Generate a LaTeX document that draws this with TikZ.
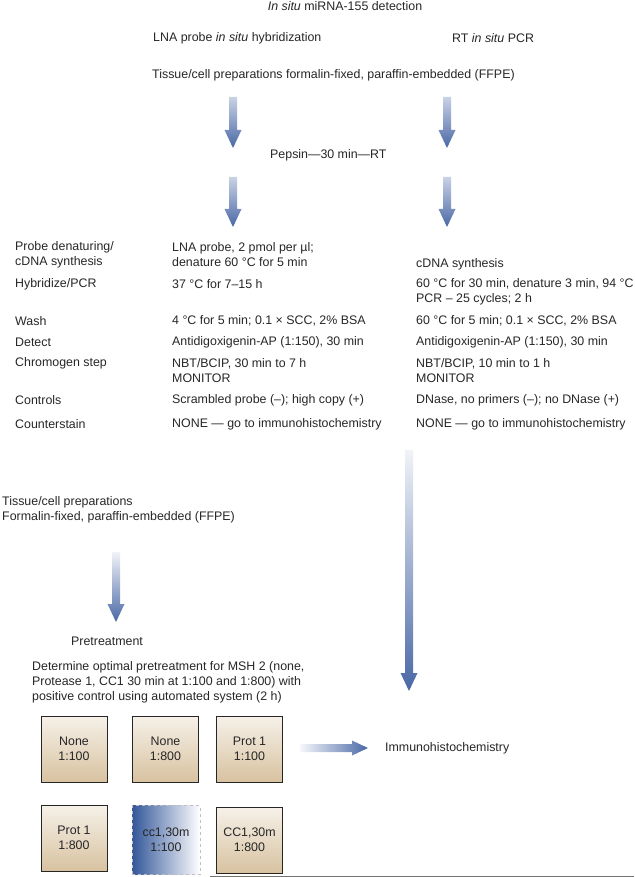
\documentclass[tikz,border=0pt]{standalone}
\usepackage{fontspec}
\setmainfont{Liberation Sans}
\usetikzlibrary{calc}
\definecolor{arrowblue}{HTML}{4A68A6}
\definecolor{tiletop}{HTML}{F6F1E9}
\definecolor{tilebottom}{HTML}{D8C2A0}
\definecolor{cellblue}{HTML}{33579A}
% shaded block arrows between two named points
\newcommand{\downblock}[3][arrowblue!8!white]{%
  \shade[top color=#1, bottom color=arrowblue]
    let \p1=(#2), \p2=(#3) in
    (\x1-4pt,\y1) -- (\x1+4pt,\y1) -- (\x1+4pt,\y2+18pt) -- (\x1+8.5pt,\y2+18pt)
    -- (\x1,\y2) -- (\x1-8.5pt,\y2+18pt) -- (\x1-4pt,\y2+18pt) -- cycle;}
\newcommand{\rightblock}[2]{%
  \shade[left color=arrowblue!5!white, right color=arrowblue]
    let \p1=(#1), \p2=(#2) in
    (\x1,\y1+4pt) -- (\x2-16pt,\y1+4pt) -- (\x2-16pt,\y1+7.5pt) -- (\x2,\y1)
    -- (\x2-16pt,\y1-7.5pt) -- (\x2-16pt,\y1-4pt) -- (\x1,\y1-4pt) -- cycle;}

\begin{document}
\begin{tikzpicture}[x=1pt, y=1pt, font=\fontsize{12.4}{15}\selectfont, text=black!85,
    txt/.style={anchor=west, inner sep=0pt, align=left},
    tile/.style={draw=black!85, line width=0.8pt, minimum width=66pt, minimum height=66pt,
      top color=tiletop, bottom color=tilebottom, align=center, inner sep=0pt},
    cctile/.style={draw=black!25, dashed, line width=0.8pt, minimum width=68pt, minimum height=69pt,
      left color=cellblue, right color=white, align=center, inner sep=0pt}]
    \useasboundingbox (0,0) rectangle (634,-877);

    % header
    \node (title) at (345,-6) {\textit{In situ} miRNA-155 detection};
    \node[txt] (lna) at (153,-38) {LNA probe \textit{in situ} hybridization};
    \node[txt] (rt) at (452,-38) {RT \textit{in situ} PCR};
    \node[txt] (ffpe) at (152,-75) {Tissue/cell preparations formalin-fixed, paraffin-embedded (FFPE)};
    \node[txt] (pepsin) at (270,-155) {Pepsin—30 min—RT};

    \coordinate (la1) at (233,-97);  \coordinate (la2) at (233,-148);
    \coordinate (lb1) at (233,-177); \coordinate (lb2) at (233,-227);
    \coordinate (ra1) at (447,-97);  \coordinate (ra2) at (447,-148);
    \coordinate (rb1) at (447,-177); \coordinate (rb2) at (447,-227);
    \downblock[arrowblue!30!white]{la1}{la2}
    \downblock[arrowblue!30!white]{lb1}{lb2}
    \downblock[arrowblue!30!white]{ra1}{ra2}
    \downblock[arrowblue!30!white]{rb1}{rb2}

    % table
    \node[txt] (probe) at (15,-254.5) {Probe denaturing/\\cDNA synthesis};
    \node[txt] (hyb) at (15,-284) {Hybridize/PCR};
    \node[txt] (wash) at (15,-321) {Wash};
    \node[txt] (detect) at (15,-342) {Detect};
    \node[txt] (chromo) at (15,-363) {Chromogen step};
    \node[txt] (controls) at (15,-400) {Controls};
    \node[txt] (counter) at (15,-424) {Counterstain};

    \node[txt] (lnaprobe) at (172,-254.5) {LNA probe, 2 pmol per µl;\\denature 60 °C for 5 min};
    \node[txt] (lnahyb) at (172,-284) {37 °C for 7–15 h};
    \node[txt] (lnawash) at (172,-321) {4 °C for 5 min; 0.1 × SCC, 2\% BSA};
    \node[txt] (lnadetect) at (172,-342) {Antidigoxigenin-AP (1:150), 30 min};
    \node[txt] (lnachromo) at (172,-370.5) {NBT/BCIP, 30 min to 7 h\\MONITOR};
    \node[txt] (lnacontrols) at (172,-400) {Scrambled probe (–); high copy (+)};
    \node[txt] (lnacounter) at (172,-424) {NONE — go to immunohistochemistry};

    \node[txt] (rtcdna) at (416,-264) {cDNA synthesis};
    \node[txt] (rthyb) at (416,-291.5) {60 °C for 30 min, denature 3 min, 94 °C\\PCR – 25 cycles; 2 h};
    \node[txt] (rtwash) at (416,-321) {60 °C for 5 min; 0.1 × SCC, 2\% BSA};
    \node[txt] (rtdetect) at (416,-342) {Antidigoxigenin-AP (1:150), 30 min};
    \node[txt] (rtchromo) at (416,-370.5) {NBT/BCIP, 10 min to 1 h\\MONITOR};
    \node[txt] (rtcontrols) at (416,-400) {DNase, no primers (–); no DNase (+)};
    \node[txt] (rtcounter) at (416,-424) {NONE — go to immunohistochemistry};

    % immunohistochemistry part
    \node[txt] (prep) at (2,-509.5) {Tissue/cell preparations\\Formalin-fixed, paraffin-embedded (FFPE)};
    \coordinate (pa1) at (116,-552); \coordinate (pa2) at (116,-622);
    \downblock{pa1}{pa2}
    \node[txt] (pretreat) at (71,-641) {Pretreatment};
    \node[txt] (determine) at (32,-682) {Determine optimal pretreatment for MSH 2 (none,\\Protease 1, CC1 30 min at 1:100 and 1:800) with\\positive control using automated system (2 h)};

    \node[tile] (none100) at (74,-749) {None\\1:100};
    \node[tile] (none800) at (165.5,-749) {None\\1:800};
    \node[tile] (prot100) at (249.5,-749) {Prot 1\\1:100};
    \node[tile] (prot800) at (74,-838) {Prot 1\\1:800};
    \node[cctile] (cc100) at (166,-840) {cc1,30m\\1:100};
    \node[tile] (cc800) at (249.5,-840) {CC1,30m\\1:800};

    \coordinate (ha1) at (300,-748); \coordinate (ha2) at (368,-748);
    \rightblock{ha1}{ha2}
    \node[txt] (ihc) at (385,-748) {Immunohistochemistry};

    \coordinate (va1) at (409,-450); \coordinate (va2) at (409,-691);
    \downblock{va1}{va2}

    \coordinate (rule1) at (210,-876); \coordinate (rule2) at (634,-876);
    \draw[black!55, line width=1pt] (rule1) -- (rule2);
\end{tikzpicture}
\end{document}
